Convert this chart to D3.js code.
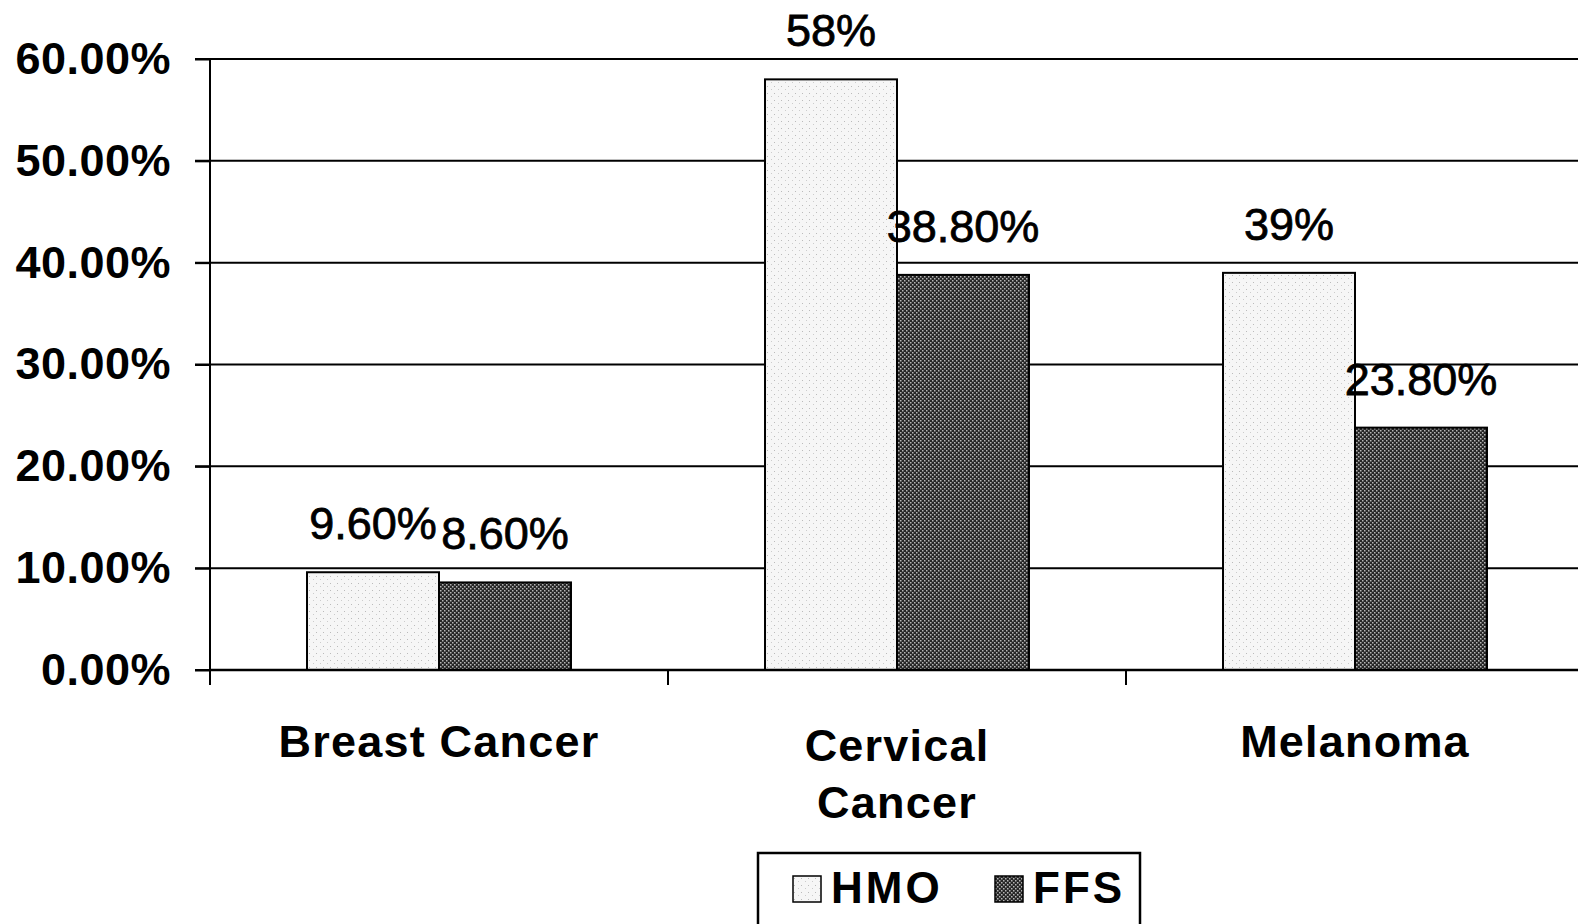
<!DOCTYPE html>
<html>
<head>
<meta charset="utf-8">
<script src="https://cdn.jsdelivr.net/npm/d3@7"></script>
<style>
  body { margin: 0; background: #fff; }
  svg { display: block; font-family: "Liberation Sans", Arial, sans-serif; }
</style>
</head>
<body>
<script>
const categories = ["Breast Cancer", "Cervical Cancer", "Melanoma"];
const categoryLines = [["Breast Cancer"], ["Cervical", "Cancer"], ["Melanoma"]];
const series = ["HMO", "FFS"];
const hmoValues = [0.096, 0.58, 0.39];
const ffsValues = [0.086, 0.388, 0.238];
const valueLabels = [["9.60%", "8.60%"], ["58%", "38.80%"], ["39%", "23.80%"]];
const yTicks = [0, 0.1, 0.2, 0.3, 0.4, 0.5, 0.6];

const W = 1578, H = 924;
const plotL = 210, plotR = 1584, plotT = 59, plotB = 670;

const svg = d3.select("body").append("svg")
  .attr("width", W).attr("height", H);

// fill textures like the scanned original
const defs = svg.append("defs");
const pLight = defs.append("pattern").attr("id", "hmo")
  .attr("width", 7).attr("height", 7).attr("patternUnits", "userSpaceOnUse");
pLight.append("rect").attr("width", 7).attr("height", 7).attr("fill", "#f6f6f6");
pLight.append("rect").attr("x", 1).attr("y", 2).attr("width", 1).attr("height", 1).attr("fill", "#bbb");
pLight.append("rect").attr("x", 5).attr("y", 5).attr("width", 1).attr("height", 1).attr("fill", "#ccc");

const pDark = defs.append("pattern").attr("id", "ffs")
  .attr("width", 4).attr("height", 4).attr("patternUnits", "userSpaceOnUse");
pDark.append("rect").attr("width", 4).attr("height", 4).attr("fill", "#262626");
pDark.append("rect").attr("x", 0).attr("y", 0).attr("width", 1.5).attr("height", 1.5).attr("fill", "#b5b5b5");
pDark.append("rect").attr("x", 2).attr("y", 2).attr("width", 1.5).attr("height", 1.5).attr("fill", "#b5b5b5");

const fills = { HMO: "url(#hmo)", FFS: "url(#ffs)" };

const y = d3.scaleLinear().domain([0, 0.6]).range([plotB, plotT]);
const x0 = d3.scaleBand().domain(categories).range([plotL, plotR]);
const x1 = d3.scaleBand().domain(series).range([0, x0.bandwidth()]).paddingOuter(0.735);

// gridlines
svg.append("g").selectAll("line")
  .data(yTicks)
  .join("line")
  .attr("x1", plotL - 15).attr("x2", plotR)
  .attr("y1", d => y(d)).attr("y2", d => y(d))
  .attr("stroke", "#000").attr("stroke-width", 2);

// y axis
const yAxis = d3.axisLeft(y).tickValues(yTicks).tickFormat(d3.format(".2%")).tickSize(15).tickPadding(24);
const gy = svg.append("g").attr("transform", `translate(${plotL},0)`).call(yAxis);
gy.select(".domain").remove();
gy.selectAll("line").attr("stroke", "#000").attr("stroke-width", 2);
gy.selectAll("text").attr("font-size", 45).attr("font-weight", "bold")
  .attr("letter-spacing", 0.5)
  .attr("font-family", "'Liberation Sans', Arial, sans-serif").attr("fill", "#000");

svg.append("line").attr("x1", plotL).attr("x2", plotL)
  .attr("y1", plotT).attr("y2", plotB + 15)
  .attr("stroke", "#000").attr("stroke-width", 2);

// bars
const rows = categories.map((c, i) => ({ c, i, vals: [hmoValues[i], ffsValues[i]] }));
const groups = svg.append("g").selectAll("g")
  .data(rows)
  .join("g")
  .attr("transform", d => `translate(${x0(d.c)},0)`);

groups.selectAll("rect")
  .data(d => series.map((s, k) => ({ s, v: d.vals[k] })))
  .join("rect")
  .attr("x", d => x1(d.s))
  .attr("y", d => y(d.v))
  .attr("width", x1.bandwidth())
  .attr("height", d => y(0) - y(d.v))
  .attr("fill", d => fills[d.s])
  .attr("stroke", "#000").attr("stroke-width", 2);

groups.selectAll("text")
  .data(d => series.map((s, k) => ({ s, v: d.vals[k], t: valueLabels[d.i][k] })))
  .join("text")
  .attr("x", d => x1(d.s) + x1.bandwidth() / 2)
  .attr("y", d => y(d.v) - 33)
  .attr("text-anchor", "middle")
  .attr("font-size", 45)
  .attr("stroke", "#000").attr("stroke-width", 0.8)
  .text(d => d.t);

// x axis baseline and boundary ticks
svg.append("line").attr("x1", plotL).attr("x2", plotR)
  .attr("y1", plotB).attr("y2", plotB)
  .attr("stroke", "#000").attr("stroke-width", 2.5);

svg.append("g").selectAll("line")
  .data(categories.slice(1))
  .join("line")
  .attr("x1", d => x0(d)).attr("x2", d => x0(d))
  .attr("y1", plotB).attr("y2", plotB + 15)
  .attr("stroke", "#000").attr("stroke-width", 2);

// category labels
svg.append("g").selectAll("text")
  .data(categories)
  .join("text")
  .attr("x", d => x0(d) + x0.bandwidth() / 2)
  .attr("y", (d, i) => categoryLines[i].length > 1 ? 761 : 757)
  .attr("text-anchor", "middle")
  .attr("font-size", 45).attr("font-weight", "bold")
  .attr("letter-spacing", 1.2)
  .selectAll("tspan")
  .data((d, i) => categoryLines[i])
  .join("tspan")
  .attr("x", function () { return d3.select(this.parentNode).attr("x"); })
  .attr("dy", (d, i) => i === 0 ? 0 : 57)
  .text(d => d);

// legend
const legend = svg.append("g").attr("transform", "translate(758,853)");
legend.append("rect").attr("width", 382).attr("height", 90)
  .attr("fill", "#fff").attr("stroke", "#000").attr("stroke-width", 2.5);
const legX = [35, 237];
const items = legend.selectAll("g").data(series).join("g")
  .attr("transform", (d, i) => `translate(${legX[i]},23)`);
items.append("rect").attr("width", 28).attr("height", 26)
  .attr("fill", d => fills[d]).attr("stroke", "#000").attr("stroke-width", 1.5);
items.append("text").attr("x", 38).attr("y", 27)
  .attr("font-size", 44).attr("font-weight", "bold")
  .attr("letter-spacing", 3)
  .text(d => d);
</script>
</body>
</html>
